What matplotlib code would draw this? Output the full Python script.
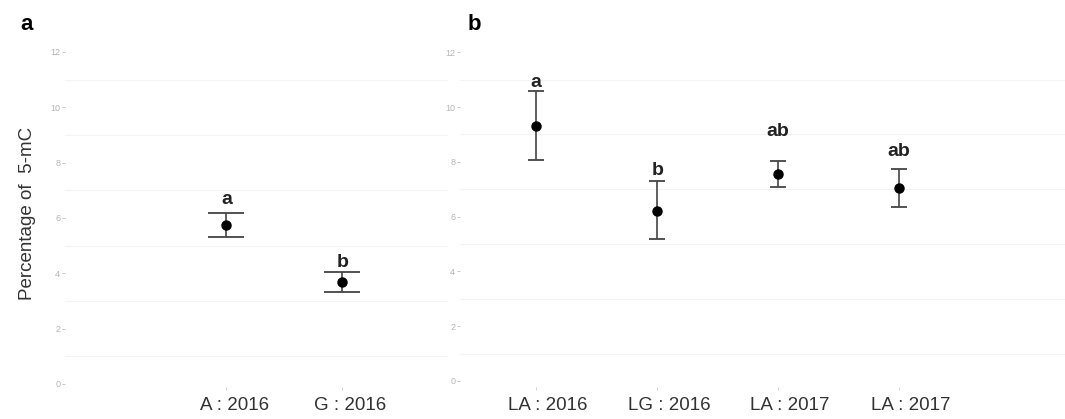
import matplotlib
matplotlib.use("Agg")
import matplotlib.pyplot as plt
import matplotlib.transforms as mtransforms

plt.rcParams['font.family'] = ['Liberation Sans', 'DejaVu Sans']

# Panel a data
cats_a = ["A : 2016", "G : 2016"]
mean_a = [5.75, 3.70]
upper_a = [6.19, 4.06]
lower_a = [5.30, 3.34]
letters_a = ["a", "b"]
letter_y_a = [6.65, 4.40]

# Panel b data
cats_b = ["LA : 2016", "LG : 2016", "LA : 2017", "LA : 2017"]
mean_b = [9.30, 6.22, 7.55, 7.05]
upper_b = [10.60, 7.30, 8.03, 7.75]
lower_b = [8.07, 5.18, 7.07, 6.36]
letters_b = ["a", "b", "ab", "ab"]
letter_y_b = [10.9, 7.7, 9.1, 8.37]

yticks = [0, 2, 4, 6, 8, 10, 12]
minor_grid = [1, 3, 5, 7, 9, 11]

W, H = 1065, 419
fig = plt.figure(figsize=(W / 100, H / 100), dpi=100)

top_px, bot_px = 40, 387
ax_a = fig.add_axes([65 / W, 1 - bot_px / H, (448 - 65) / W, (bot_px - top_px) / H])
ax_b = fig.add_axes([460 / W, 1 - bot_px / H, (1065 - 460) / W, (bot_px - top_px) / H])


def draw(ax, cats, mean, upper, lower, letters, ly, xlim, ylim, capsize, letter_dx):
    x = list(range(1, len(cats) + 1))
    yerr = [[m - l for m, l in zip(mean, lower)], [u - m for m, u in zip(mean, upper)]]
    ax.errorbar(x, mean, yerr=yerr, fmt='o', color='black', ecolor='#444444',
                elinewidth=1.2, capsize=capsize, capthick=1.3, markersize=6.5, zorder=3)
    for xi, t, yy in zip(x, letters, ly):
        ax.text(xi, yy, t, ha='center', va='center', fontsize=14, fontweight='bold',
                color='#222222')
    ax.set_xlim(*xlim)
    ax.set_ylim(*ylim)
    for g in minor_grid:
        ax.axhline(g, color='#f3f3f3', lw=0.8, zorder=0)
    ax.set_xticks(x)
    ax.set_xticklabels(cats, fontsize=13.5, color='#333333')
    ax.set_yticks(yticks)
    ax.set_yticklabels([str(v) for v in yticks], fontsize=6.5, color='#b5b5b5')
    ax.tick_params(axis='y', length=2.5, width=0.6, color='#c0c0c0', pad=1)
    ax.tick_params(axis='x', length=2.5, width=0.6, color='#d0d0d0', pad=5)
    for s in ax.spines.values():
        s.set_visible(False)
    offset = mtransforms.ScaledTranslation(letter_dx / 100, 0, fig.dpi_scale_trans)
    for lab in ax.get_xticklabels():
        lab.set_transform(lab.get_transform() + offset)


draw(ax_a, cats_a, mean_a, upper_a, lower_a, letters_a, letter_y_a,
     (1 - 1.39, 2 + 0.91), (-0.11, 12.43), 13, 8)
draw(ax_b, cats_b, mean_b, upper_b, lower_b, letters_b, letter_y_b,
     (1 - 0.63, 4 + 1.37), (-0.22, 12.45), 6, 12)

ax_a.set_ylabel("Percentage of  5-mC", fontsize=13.5, color='#333333', labelpad=10)

fig.text(20 / W, 1 - 25 / H, "a", fontsize=16, fontweight='bold', va='center', ha='left')
fig.text(468 / W, 1 - 24 / H, "b", fontsize=16, fontweight='bold', va='center', ha='left')

fig.savefig("out.png", dpi=100, facecolor='white')
